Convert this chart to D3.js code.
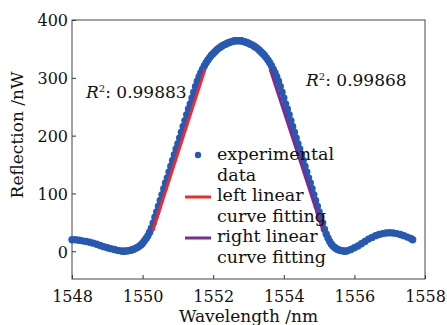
<!DOCTYPE html>
<html>
<head>
<meta charset="utf-8">
<script src="https://cdn.jsdelivr.net/npm/d3@7"></script>
<style>
  html, body { margin: 0; padding: 0; background: #fff; }
  svg { display: block; font-family: "DejaVu Serif", serif; }
</style>
</head>
<body>
<div id="chart"></div>
<script>
// measured spectrum (wavelength in nm, reflection in nW)
const wavelength = [
  1548.0, 1548.1, 1548.2, 1548.3, 1548.4, 1548.5, 1548.6, 1548.7, 1548.8, 1548.9,
  1549.0, 1549.1, 1549.2, 1549.3, 1549.4, 1549.45, 1549.5, 1549.55, 1549.6, 1549.65,
  1549.7, 1549.75, 1549.8, 1549.85, 1549.9, 1549.95, 1550.0, 1550.05, 1550.1, 1550.15,
  1550.2, 1550.25, 1550.3, 1550.35, 1550.4, 1550.45, 1550.5, 1550.55, 1550.6, 1550.65,
  1550.7, 1550.75, 1550.8, 1550.85, 1550.9, 1550.95, 1551.0, 1551.05, 1551.1, 1551.15,
  1551.2, 1551.25, 1551.3, 1551.35, 1551.4, 1551.45, 1551.5, 1551.55, 1551.6, 1551.65,
  1551.7, 1551.75, 1551.8, 1551.85, 1551.9, 1551.95, 1552.0, 1552.05, 1552.1, 1552.15,
  1552.2, 1552.25, 1552.3, 1552.35, 1552.4, 1552.45, 1552.5, 1552.55, 1552.6, 1552.65,
  1552.7, 1552.75, 1552.8, 1552.85, 1552.9, 1552.95, 1553.0, 1553.05, 1553.1, 1553.15,
  1553.2, 1553.25, 1553.3, 1553.35, 1553.4, 1553.45, 1553.5, 1553.55, 1553.6, 1553.65,
  1553.7, 1553.75, 1553.8, 1553.85, 1553.9, 1553.95, 1554.0, 1554.05, 1554.1, 1554.15,
  1554.2, 1554.25, 1554.3, 1554.35, 1554.4, 1554.45, 1554.5, 1554.55, 1554.6, 1554.65,
  1554.7, 1554.75, 1554.8, 1554.85, 1554.9, 1554.95, 1555.0, 1555.05, 1555.1, 1555.15,
  1555.2, 1555.25, 1555.3, 1555.35, 1555.4, 1555.45, 1555.5, 1555.55, 1555.6, 1555.65,
  1555.7, 1555.75, 1555.8, 1555.9, 1556.0, 1556.1, 1556.2, 1556.3, 1556.4, 1556.5,
  1556.6, 1556.7, 1556.8, 1556.9, 1557.0, 1557.1, 1557.2, 1557.3, 1557.4, 1557.5,
  1557.6, 1557.65
];
const reflection = [
  20, 20, 19, 18, 17, 15.5, 14, 12, 10, 8,
  6, 4.5, 3, 1.5, 0.5, 0, 0.3, 0.6, 1, 1.5,
  2.5, 3.5, 5, 6.5, 8.5, 11, 14, 18, 22, 27,
  33, 40, 49, 59, 68, 78, 88, 98, 108, 118,
  127, 137, 147, 157, 167, 177, 186, 196, 206, 216,
  226, 236, 246, 255, 265, 275, 285, 294, 302, 309,
  315, 321, 326, 331, 335, 339, 342, 345, 348, 351,
  353, 355, 357, 358, 360, 361, 362, 363, 364, 364,
  364, 364, 364, 363, 362, 361, 360, 358, 357, 355,
  353, 351, 348, 345, 342, 339, 335, 331, 326, 321,
  315, 309, 302, 294, 285, 275, 265, 255, 246, 236,
  226, 216, 206, 196, 186, 177, 167, 157, 147, 137,
  127, 118, 108, 98, 88, 78, 68, 59, 49, 38,
  30, 23, 17, 12, 8.5, 6, 4, 2.5, 1.5, 0.8,
  0.3, 0, 1, 3, 6, 9, 13, 17, 21, 24,
  27, 29, 30.5, 31.5, 32, 31.5, 30.5, 29, 27, 24.5,
  22, 20
];

// linear fits: end points [wavelength, reflection]
const leftFit = [[1550.29, 36], [1551.77, 315]];
const rightFit = [[1553.61, 315], [1555.11, 36]];
const leftR2 = '0.99883';
const rightR2 = '0.99868';

const xTicks = [1548, 1550, 1552, 1554, 1556, 1558];
const yTicks = [0, 100, 200, 300, 400];

const legendLabels = [
  ['experimental', 'data'],
  ['left linear', 'curve fitting'],
  ['right linear', 'curve fitting']
];

const blue = '#2759b3';
const red = '#ee2b2b';
const purple = '#7a2e8e';

const W = 447, H = 325;
const margin = { top: 20, right: 22, bottom: 46, left: 72 };
const width = W - margin.left - margin.right;
const height = H - margin.top - margin.bottom;

const svg = d3.select('#chart')
  .append('svg')
  .attr('width', W)
  .attr('height', H);

const g = svg.append('g')
  .attr('transform', `translate(${margin.left},${margin.top})`);

const x = d3.scaleLinear()
  .domain([1548, 1558])
  .range([0, width]);

const y = d3.scaleLinear()
  .domain([-48, 400])
  .range([height, 0]);

// axes, ticks pointing inwards
const xAxis = g.append('g')
  .attr('transform', `translate(0,${height})`)
  .call(d3.axisBottom(x).tickValues(xTicks).tickSizeInner(-4).tickSizeOuter(0).tickFormat(d3.format('d')));

const yAxis = g.append('g')
  .call(d3.axisLeft(y).tickValues(yTicks).tickSizeInner(-4).tickSizeOuter(0));

[xAxis, yAxis].forEach(a => {
  a.select('.domain').remove();
  a.selectAll('line').attr('stroke', '#333');
  a.selectAll('text')
    .attr('fill', '#111')
    .style('font-family', '"DejaVu Serif", serif')
    .style('font-size', '16px');
});
xAxis.selectAll('text').attr('y', 23).attr('dy', 0);
yAxis.selectAll('text').attr('x', -4).attr('dy', '0.36em');

// frame
g.append('rect')
  .attr('width', width)
  .attr('height', height)
  .attr('fill', 'none')
  .attr('stroke', '#444')
  .attr('stroke-width', 1);

// data points
const pts = wavelength.map((w, i) => ({ w, r: reflection[i] }));
g.append('g')
  .selectAll('circle')
  .data(pts)
  .enter()
  .append('circle')
  .attr('cx', d => x(d.w))
  .attr('cy', d => y(d.r))
  .attr('r', 3.7)
  .attr('fill', blue);

// fit lines
const line = d3.line().x(d => x(d[0])).y(d => y(d[1]));
g.append('path').attr('d', line(leftFit))
  .attr('stroke', red).attr('stroke-width', 3).attr('fill', 'none');
g.append('path').attr('d', line(rightFit))
  .attr('stroke', purple).attr('stroke-width', 3).attr('fill', 'none');

// R^2 labels
function r2Label(px, py, val) {
  const t = svg.append('text')
    .attr('x', px).attr('y', py)
    .style('font-size', '17px')
    .attr('fill', '#111');
  t.append('tspan').text('R').style('font-style', 'italic');
  t.append('tspan').text('2').attr('dy', -6).style('font-size', '10px');
  t.append('tspan').text(': ' + val).attr('dy', 6);
}
r2Label(86, 98, leftR2);
r2Label(306, 86, rightR2);

// legend
const lg = svg.append('g').style('font-size', '17.5px').attr('fill', '#111');
const lineStep = 20.5;
legendLabels.forEach((lines, i) => {
  const base = 160 + i * 2 * lineStep;
  if (i === 0) {
    lg.append('circle').attr('cx', 198).attr('cy', base - 5).attr('r', 3.2).attr('fill', blue);
  } else {
    lg.append('line')
      .attr('x1', 185).attr('x2', 211)
      .attr('y1', base - 4).attr('y2', base - 4)
      .attr('stroke', i === 1 ? red : purple)
      .attr('stroke-width', 3);
  }
  lines.forEach((s, j) => {
    lg.append('text')
      .attr('x', 217)
      .attr('y', base + j * lineStep)
      .text(s);
  });
});

// axis titles
svg.append('text')
  .attr('x', margin.left + width / 2)
  .attr('y', 322)
  .attr('text-anchor', 'middle')
  .style('font-size', '17px')
  .attr('fill', '#111')
  .text('Wavelength /nm');

svg.append('text')
  .attr('transform', 'translate(23,135) rotate(-90)')
  .attr('text-anchor', 'middle')
  .style('font-size', '17px')
  .attr('fill', '#111')
  .text('Reflection /nW');
</script>
</body>
</html>
